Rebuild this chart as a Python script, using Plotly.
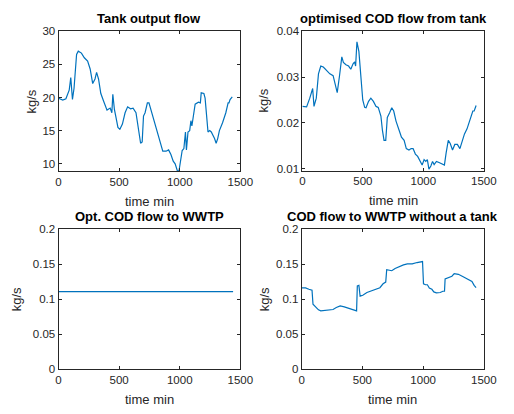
import plotly.graph_objects as go

# ---- data ----
t_tank = [0, 35, 61, 88, 101, 115, 128, 149, 163, 189, 213, 240, 261, 282, 301, 314, 330, 349, 373, 400,
          426, 440, 448, 461, 474, 490, 506, 527, 549, 570, 594, 615, 639, 661, 677, 690, 701, 714, 733, 746,
          762, 794, 820, 847, 860, 887, 908, 927, 946, 962, 980, 994, 1007, 1020, 1034, 1047, 1055, 1068, 1082, 1092,
          1100, 1114, 1127, 1154, 1170, 1177, 1199, 1209, 1220, 1233, 1247, 1260, 1287, 1300, 1313, 1327, 1353, 1380, 1399, 1406,
          1415, 1433]
tank_flow = [19.9, 19.6, 19.8, 21.1, 23.0, 19.7, 21.4, 26.5, 27.0, 26.7, 26.0, 25.5, 24.3, 22.1, 22.8, 23.8, 22.8, 20.6, 19.4, 18.1,
             18.4, 17.7, 20.5, 18.2, 17.0, 15.5, 15.2, 16.0, 17.7, 18.6, 18.3, 18.4, 17.7, 15.0, 13.1, 13.3, 17.2, 17.7, 19.2, 19.2,
             18.2, 16.2, 14.5, 13.1, 11.9, 11.9, 12.1, 11.4, 10.4, 10.0, 8.95, 8.95, 10.9, 12.0, 12.3, 14.8, 12.1, 14.8, 15.0, 16.5,
             15.7, 17.7, 19.0, 19.3, 19.2, 20.7, 20.6, 19.9, 17.2, 14.8, 15.0, 14.8, 13.8, 13.1, 13.8, 15.0, 16.2, 17.7, 19.2, 19.2,
             19.7, 20.1]

t_cod = [0, 35, 61, 85, 96, 115, 133, 152, 173, 200, 227, 254, 275, 288, 307, 326, 339, 360, 382, 400,
         419, 432, 440, 451, 467, 483, 499, 515, 526, 547, 566, 587, 609, 627, 649, 662, 675, 689, 702, 721,
         739, 755, 774, 801, 819, 841, 859, 881, 899, 915, 934, 953, 974, 990, 1006, 1020, 1033, 1046, 1062, 1076,
         1089, 1108, 1134, 1161, 1174, 1188, 1206, 1222, 1241, 1260, 1281, 1302, 1321, 1340, 1361, 1388, 1409, 1420, 1436]
cod_tank = [0.0236, 0.0235, 0.0254, 0.0275, 0.0236, 0.0254, 0.0307, 0.0324, 0.0322, 0.0314, 0.0307, 0.0303, 0.0275, 0.0266, 0.0303, 0.0344, 0.0332, 0.0327, 0.0324, 0.0317,
            0.0329, 0.0333, 0.0324, 0.0377, 0.0356, 0.0307, 0.0250, 0.0234, 0.0233, 0.0247, 0.0254, 0.0247, 0.0236, 0.0234, 0.0215, 0.0183, 0.0162, 0.0162, 0.0212, 0.0222,
            0.0233, 0.0226, 0.0204, 0.0183, 0.0169, 0.0162, 0.0144, 0.0141, 0.0144, 0.0144, 0.0132, 0.0127, 0.0116, 0.0108, 0.0120, 0.0116, 0.0120, 0.0099, 0.0106, 0.0116,
            0.0109, 0.0116, 0.0113, 0.0109, 0.0108, 0.0134, 0.0162, 0.0155, 0.0141, 0.0153, 0.0153, 0.0144, 0.0159, 0.0176, 0.0187, 0.0208, 0.0226, 0.0226, 0.0238]

t_opt = [0, 1440]
cod_opt = [0.111, 0.111]

t_wwtp = [0, 32, 59, 85, 93, 112, 138, 157, 192, 218, 258, 285, 317, 351, 391, 423, 452, 458, 471, 481,
          503, 537, 577, 617, 644, 670, 692, 700, 723, 742, 769, 803, 838, 870, 910, 950, 995, 1003, 1019, 1035,
          1051, 1072, 1088, 1109, 1141, 1162, 1176, 1181, 1194, 1221, 1237, 1256, 1290, 1322, 1362, 1402, 1420, 1436]
cod_wwtp = [0.1163, 0.1163, 0.1144, 0.1130, 0.0930, 0.0898, 0.0851, 0.0837, 0.0842, 0.0856, 0.0856, 0.0884, 0.0907, 0.0893, 0.0874, 0.0851, 0.0837, 0.1191, 0.1200, 0.1047,
            0.1060, 0.1098, 0.1121, 0.1144, 0.1167, 0.1223, 0.1247, 0.1423, 0.1419, 0.1409, 0.1442, 0.1470, 0.1493, 0.1507, 0.1507, 0.1526, 0.1540, 0.1223, 0.1209, 0.1209,
            0.1163, 0.1144, 0.1107, 0.1093, 0.1098, 0.1116, 0.1116, 0.1293, 0.1302, 0.1312, 0.1330, 0.1367, 0.1358, 0.1330, 0.1293, 0.1256, 0.1200, 0.1167]

titles = ["Tank output flow", "optimised COD flow from tank", "Opt. COD flow to WWTP", "COD flow to WWTP without a tank"]
x_ticks = [0, 500, 1000, 1500]
y_ticks = [[10, 15, 20, 25, 30], [0.01, 0.02, 0.03, 0.04], [0, 0.05, 0.1, 0.15, 0.2], [0, 0.05, 0.1, 0.15, 0.2]]
y_ranges = [[8.9, 30], [0.0096, 0.04], [0, 0.2], [0, 0.2]]

W, H = 514, 414
# pixel boxes: left, right, top, bottom
boxes = [(57.3, 245, 26, 170), (309, 496.3, 26, 169.5), (57.3, 245, 230, 374.3), (308.3, 496.3, 230, 374.3)]
ylab_off = [28, 40, 43, 39]

LINE = "#0072BD"
AX = "#262626"
FONT = "Liberation Sans, Arial, sans-serif"

fig = go.Figure()
series = [(t_tank, tank_flow), (t_cod, cod_tank), (t_opt, cod_opt), (t_wwtp, cod_wwtp)]
annotations = []
for i, ((xs, ys), (l, r, t, b)) in enumerate(zip(series, boxes)):
    n = "" if i == 0 else str(i + 1)
    fig.add_trace(go.Scatter(x=xs, y=ys, mode="lines", line=dict(color=LINE, width=1.2),
                             xaxis="x" + n, yaxis="y" + n, showlegend=False, hoverinfo="skip"))
    common = dict(showgrid=False, zeroline=False, showline=True, linecolor=AX, linewidth=1,
                  mirror="allticks", ticks="inside", ticklen=3, tickcolor=AX,
                  tickfont=dict(family=FONT, size=11.5, color=AX))
    fig.update_layout(**{
        "xaxis" + n: dict(domain=[l / W, r / W], range=[0, 1500], tickvals=x_ticks,
                          anchor="y" + n, **common),
        "yaxis" + n: dict(domain=[1 - b / H, 1 - t / H], range=y_ranges[i], tickvals=y_ticks[i],
                          anchor="x" + n, **common),
    })
    cx = (l + r) / 2 / W
    annotations.append(dict(text="<b>" + titles[i] + "</b>", x=cx, y=1 - (t - 3) / H, xref="paper", yref="paper",
                            xanchor="center", yanchor="bottom", showarrow=False,
                            font=dict(family=FONT, size=13, color="#000000")))
    annotations.append(dict(text="time min", x=cx, y=1 - (b + 31) / H, xref="paper", yref="paper",
                            xanchor="center", yanchor="middle", showarrow=False,
                            font=dict(family=FONT, size=13, color=AX)))
    annotations.append(dict(text="kg/s", x=(l - ylab_off[i]) / W, y=1 - (t + b) / 2 / H, xref="paper", yref="paper",
                            xanchor="center", yanchor="middle", showarrow=False, textangle=-90,
                            font=dict(family=FONT, size=13, color=AX)))

fig.update_layout(width=W, height=H, margin=dict(l=0, r=0, t=0, b=0),
                  paper_bgcolor="white", plot_bgcolor="white", annotations=annotations)
fig.write_html("out.html")
